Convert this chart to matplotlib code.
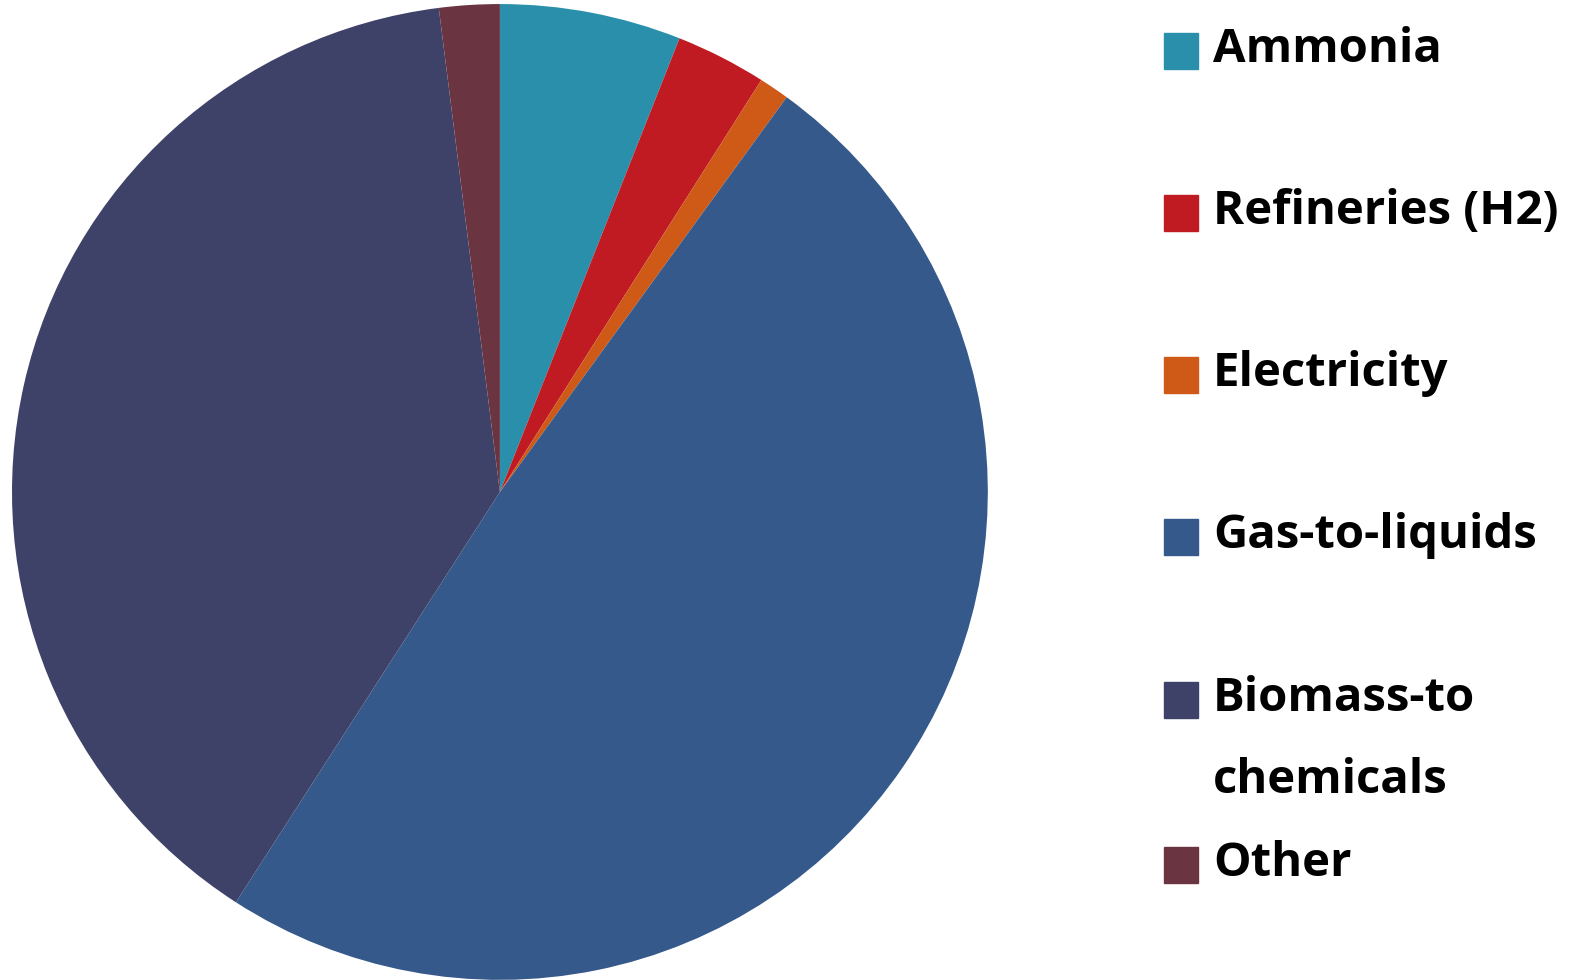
import matplotlib.pyplot as plt
from matplotlib.patches import Rectangle

# Share of each use (percent), read clockwise from the top
labels = ["Ammonia", "Refineries (H2)", "Electricity", "Gas-to-liquids",
          "Biomass-to\nchemicals", "Other"]
shares = [6.0, 3.0, 1.0, 49.1, 38.9, 2.0]
colors = ["#2A8FAA", "#C01B23", "#CF5A18", "#34598A", "#3F4268", "#6B3441"]

fig = plt.figure(figsize=(15.79, 9.80), dpi=100)
ax = fig.add_axes([0.0076, 0.0, 0.618, 0.996])
ax.pie(shares, colors=colors, startangle=90, counterclock=False,
       wedgeprops=dict(linewidth=0))
ax.set_xlim(-1, 1)
ax.set_ylim(-1, 1)
ax.set_aspect("equal")

# hand-made legend: square + label, rows spaced as in the original
row_tops = [33, 195, 357, 519, 682, 847]  # pixel rows from the top
for lab, col, top in zip(labels, colors, row_tops):
    x0 = 1164 / 1579
    y0 = 1 - (top + 36) / 980
    fig.patches.append(Rectangle((x0, y0), 34 / 1579, 36 / 980,
                                 transform=fig.transFigure, color=col))
    for i, line in enumerate(lab.split("\n")):
        fig.text(1213 / 1579, 1 - (top + 29 + 82 * i) / 980, line,
                 fontsize=34, fontweight="bold", family="Open Sans",
                 va="baseline")

fig.savefig("out.png", dpi=100)
